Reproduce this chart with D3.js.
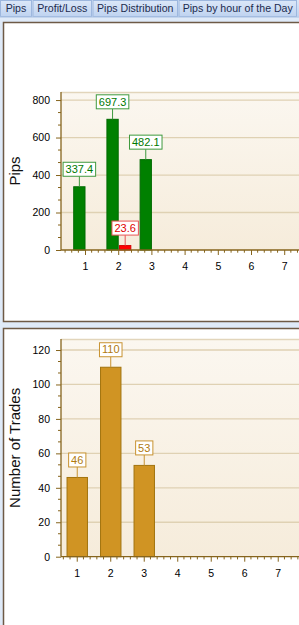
<!DOCTYPE html>
<html>
<head>
<meta charset="utf-8">
<script src="https://cdn.jsdelivr.net/npm/d3@7"></script>
<style>
  html, body { margin: 0; padding: 0; background: #dfeaf8; overflow: hidden; }
  svg { display: block; }
  text { font-family: "Liberation Sans", Arial, sans-serif; }
</style>
</head>
<body>
<svg id="c" width="299" height="625"></svg>
<script>
// ---------- data ----------
const tabLabels = ["Pips", "Profit/Loss", "Pips Distribution", "Pips by hour of the Day"];
const categories = [1, 2, 3];
const profitPips = [337.4, 697.3, 482.1];
const lossPips = [0, 23.6, 0];
const tradeCounts = [46, 110, 53];
const xTickLabels = [1, 2, 3, 4, 5, 6, 7];
const pipsTicks = [0, 200, 400, 600, 800];
const tradeTicks = [0, 20, 40, 60, 80, 100, 120];

const svg = d3.select("#c");
const defs = svg.append("defs");
const grad = defs.append("linearGradient").attr("id", "plotbg")
  .attr("x1", 0).attr("y1", 0).attr("x2", 0).attr("y2", 1);
grad.append("stop").attr("offset", "0%").attr("stop-color", "#fbf7f0");
grad.append("stop").attr("offset", "100%").attr("stop-color", "#f6ecdb");
const tgrad = defs.append("linearGradient").attr("id", "tabbg")
  .attr("x1", 0).attr("y1", 0).attr("x2", 0).attr("y2", 1);
tgrad.append("stop").attr("offset", "0%").attr("stop-color", "#dbe7f8");
tgrad.append("stop").attr("offset", "100%").attr("stop-color", "#bfd3f0");

// ---------- tabs ----------
const tabX = [0, 32.5, 92.5, 178.5, 297.5];
const tabs = svg.append("g");
tabs.append("rect").attr("x", 0).attr("y", 0).attr("width", 299).attr("height", 16.5).attr("fill", "url(#tabbg)");
tabLabels.forEach((t, i) => {
  const x0 = tabX[i], x1 = tabX[i + 1] - 1.5;
  tabs.append("rect").attr("x", x0 + 0.5).attr("y", 0.5).attr("width", x1 - x0).attr("height", 16)
    .attr("fill", "url(#tabbg)").attr("stroke", "#9db7de").attr("stroke-width", 1);
  tabs.append("text").attr("x", (x0 + x1) / 2 + 0.5).attr("y", 12.2)
    .attr("text-anchor", "middle").attr("font-size", 10.6).attr("fill", "#1c2b4e").text(t);
});
tabs.append("line").attr("x1", 0).attr("x2", 299).attr("y1", 17).attr("y2", 17).attr("stroke", "#a9c0e2");

// ---------- panels ----------
svg.append("rect").attr("x", 3.5).attr("y", 22.5).attr("width", 310).attr("height", 299)
  .attr("fill", "#ffffff").attr("stroke", "#6e5a46").attr("stroke-width", 1.5);
svg.append("rect").attr("x", 3.5).attr("y", 328.5).attr("width", 310).attr("height", 320)
  .attr("fill", "#ffffff").attr("stroke", "#6e5a46").attr("stroke-width", 1.5);

const axisColor = "#86641c";

function drawChart(cfg) {
  const g = svg.append("g");
  const x = d3.scaleLinear().domain([cfg.xStart, cfg.xStart + 8]).range([61, 61 + cfg.unit * 8]);
  const y = d3.scaleLinear().domain([0, cfg.yMax]).range([cfg.bottom, cfg.top]);

  // plot background
  g.append("rect").attr("x", 61).attr("y", cfg.top).attr("width", 260).attr("height", cfg.bottom - cfg.top)
    .attr("fill", "url(#plotbg)");
  g.append("line").attr("x1", 61).attr("x2", 320).attr("y1", cfg.top + 0.5).attr("y2", cfg.top + 0.5)
    .attr("stroke", "#e2d5bb").attr("stroke-width", 1.5);
  // grid
  g.selectAll(".grid").data(cfg.yTicks.filter(d => d > 0)).enter().append("line")
    .attr("x1", 61).attr("x2", 320).attr("y1", d => y(d)).attr("y2", d => y(d))
    .attr("stroke", "#dfd1b3").attr("stroke-width", 1.3);

  // bars
  cfg.series.forEach(s => {
    s.values.forEach((v, i) => {
      if (!v) return;
      const c = categories[i];
      const bx0 = x(c + s.off0), bx1 = x(c + s.off1);
      g.append("rect").attr("x", bx0).attr("y", y(v)).attr("width", bx1 - bx0).attr("height", y(0) - y(v))
        .attr("fill", s.fill).attr("stroke", s.stroke).attr("stroke-width", 1);
    });
  });

  // axes
  const yAxis = g.append("g").attr("transform", "translate(61,0)")
    .call(d3.axisLeft(y).tickValues(cfg.yTicks).tickSize(5).tickPadding(6).tickFormat(d3.format("d")));
  const minorY = d3.range(0, cfg.yMax, cfg.yStep / 3).filter((d, i) => i % 3 !== 0);
  g.selectAll(".my").data(minorY).enter().append("line")
    .attr("x1", 58).attr("x2", 61).attr("y1", d => y(d)).attr("y2", d => y(d))
    .attr("stroke", axisColor).attr("stroke-width", 1);

  const xAxis = g.append("g").attr("transform", `translate(0,${cfg.bottom})`)
    .call(d3.axisBottom(x).tickValues(xTickLabels).tickSize(5).tickPadding(8).tickFormat(d3.format("d")));
  const minorX = d3.range(Math.ceil(cfg.xStart * 5) / 5, cfg.xStart + 8, 0.2)
    .filter(d => Math.abs(d - Math.round(d)) > 0.01 || Math.round(d) > 7);
  g.selectAll(".mx").data(minorX).enter().append("line")
    .attr("x1", d => x(d)).attr("x2", d => x(d)).attr("y1", cfg.bottom).attr("y2", cfg.bottom + 2.7)
    .attr("stroke", axisColor).attr("stroke-width", 1);

  [yAxis, xAxis].forEach(a => {
    a.select(".domain").attr("stroke", axisColor).attr("stroke-width", 1.3);
    a.selectAll(".tick line").attr("stroke", axisColor).attr("stroke-width", 1);
    a.selectAll(".tick text").attr("fill", "#000").attr("font-size", 10.5)
      .attr("font-family", "'Liberation Sans', Arial, sans-serif");
  });
  yAxis.select(".domain").attr("d", `M0,${cfg.top}V${cfg.bottom}`);
  xAxis.select(".domain").attr("d", `M61,0H320`);

  // labels
  cfg.series.forEach(s => {
    s.values.forEach((v, i) => {
      if (!v) return;
      const c = categories[i];
      const cx = x(c + (s.off0 + s.off1) / 2);
      const topY = y(v);
      const boxB = topY - 10.5, boxH = 14;
      const lg = g.append("g");
      lg.append("line").attr("x1", cx).attr("x2", cx).attr("y1", boxB).attr("y2", topY)
        .attr("stroke", s.labelStroke).attr("stroke-width", 1);
      const rect = lg.append("rect").attr("y", boxB - boxH).attr("height", boxH)
        .attr("fill", "#ffffff").attr("stroke", s.labelStroke).attr("stroke-width", 1);
      const t = lg.append("text").attr("x", cx).attr("y", boxB - 3.3).attr("text-anchor", "middle")
        .attr("font-size", 11).attr("fill", s.labelText).text(s.format(v));
      const w = t.node().getComputedTextLength() + 5;
      rect.attr("x", cx - w / 2).attr("width", w);
    });
  });

  // y title
  g.append("text").attr("transform", `translate(20,${(cfg.top + cfg.bottom) / 2}) rotate(-90)`)
    .attr("text-anchor", "middle").attr("font-size", 15).attr("fill", "#111")
    .attr("font-family", "'DejaVu Sans', Verdana, sans-serif").text(cfg.title);
}

drawChart({
  top: 92, bottom: 250, yMax: 843, yStep: 200, yTicks: pipsTicks,
  xStart: 0.277, unit: 33.2, title: "Pips",
  series: [
    { values: profitPips, off0: -0.34, off1: 0.0, fill: "#008000", stroke: "#006a00",
      labelStroke: "#3f9a3f", labelText: "#007800", format: d3.format(".1f") },
    { values: lossPips, off0: 0.04, off1: 0.38, fill: "#ff0000", stroke: "#d40000",
      labelStroke: "#e85555", labelText: "#e00000", format: d3.format(".1f") }
  ]
});

drawChart({
  top: 339, bottom: 556.7, yMax: 126.4, yStep: 20, yTicks: tradeTicks,
  xStart: 0.53, unit: 33.5, title: "Number of Trades",
  series: [
    { values: tradeCounts, off0: -0.29, off1: 0.32, fill: "#d09423", stroke: "#a2740f",
      labelStroke: "#c89332", labelText: "#b07a10", format: d3.format("d") }
  ]
});
</script>
</body>
</html>
